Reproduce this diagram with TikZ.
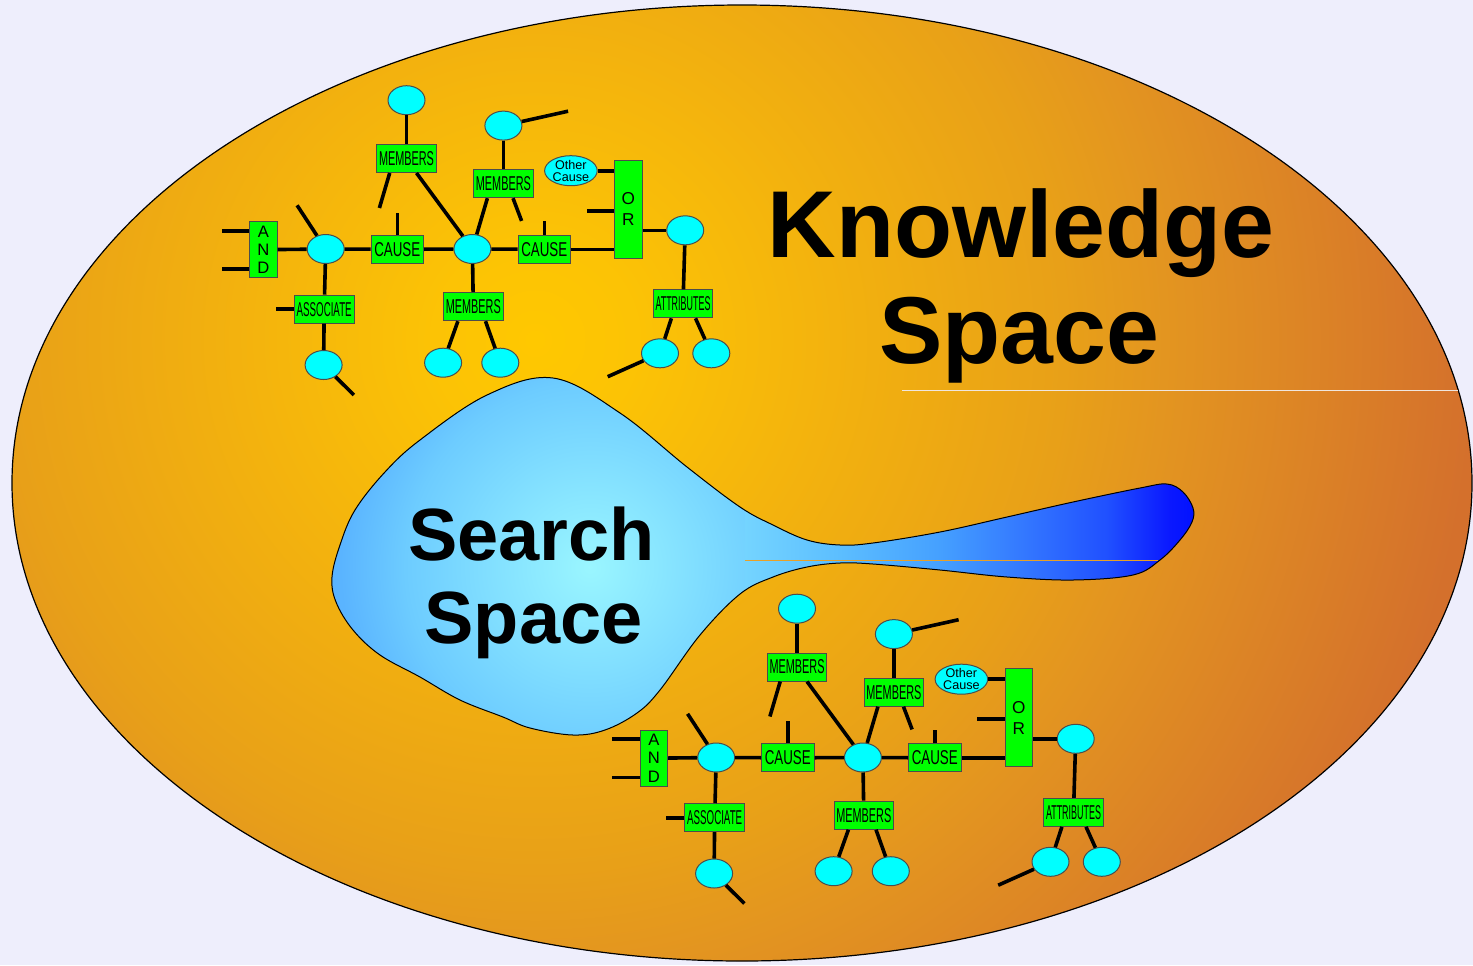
\documentclass[tikz,border=0pt]{standalone}
\usepackage{fontspec}
\setmainfont{Liberation Sans}
\usepackage{graphicx}
\usetikzlibrary{positioning,calc,shapes.geometric}

\definecolor{pagebg}{RGB}{238,238,252}
\definecolor{ks0}{RGB}{255,200,0}
\definecolor{ks1}{RGB}{252,195,5}
\definecolor{ks2}{RGB}{243,178,14}
\definecolor{ks3}{RGB}{232,160,24}
\definecolor{ks4}{RGB}{227,149,32}
\definecolor{ks5}{RGB}{212,112,44}
\definecolor{bu0}{RGB}{154,246,255}
\definecolor{bu1}{RGB}{109,204,255}
\definecolor{bu2}{RGB}{90,180,255}
\definecolor{bu3}{RGB}{85,172,255}
\definecolor{tl0}{RGB}{116,212,255}
\definecolor{tl1}{RGB}{92,190,255}
\definecolor{tl2}{RGB}{69,160,255}
\definecolor{tl3}{RGB}{48,112,255}
\definecolor{tl4}{RGB}{32,80,255}
\definecolor{tl5}{RGB}{10,24,255}
\definecolor{tl6}{RGB}{0,16,255}
\definecolor{objcyan}{RGB}{0,255,255}
\definecolor{relgreen}{RGB}{0,255,0}
\definecolor{hline}{RGB}{240,230,222}
\definecolor{tline}{RGB}{232,160,40}

\pgfdeclareradialshading{kspace}{\pgfpointorigin}{color(0bp)=(ks0); color(2.5bp)=(ks1);
  color(7.5bp)=(ks2); color(13.25bp)=(ks3); color(15.75bp)=(ks4); color(23.5bp)=(ks5); color(50bp)=(ks5)}
\pgfdeclareradialshading{bulb}{\pgfpointorigin}{color(0bp)=(bu0); color(15.4bp)=(bu1);
  color(20.8bp)=(bu2); color(25bp)=(bu3); color(50bp)=(bu3)}
\pgfdeclarehorizontalshading{tail}{100bp}{color(0bp)=(tl0); color(25bp)=(tl0); color(35.4bp)=(tl1);
  color(46.4bp)=(tl2); color(57.4bp)=(tl3); color(64.8bp)=(tl4); color(71.7bp)=(tl5); color(75bp)=(tl6); color(100bp)=(tl6)}

\newcommand{\boxtxt}[2]{\resizebox{#1}{7pt}{#2}}

\begin{document}
\begin{tikzpicture}[x=0.5pt,y=-0.5pt]
  \tikzstyle{obj}=[ellipse, draw=black!70, line width=0.5pt, fill=objcyan, minimum width=18.5pt, minimum height=14.5pt, inner sep=0pt]
  \tikzstyle{rel}=[rectangle, draw=black!70, line width=0.5pt, fill=relgreen, minimum height=14pt, inner sep=0pt]
  \tikzstyle{gate}=[rel, minimum width=13.75pt, align=center, font=\fontsize{8.3}{9.15}\selectfont]
  \tikzstyle{link}=[line width=1.8pt]
  \tikzstyle{title}=[anchor=base, inner sep=0pt, font=\bfseries\fontsize{47.5}{53}\selectfont]
  \tikzstyle{subtitle}=[anchor=base, inner sep=0pt, font=\bfseries\fontsize{37}{41.5}\selectfont]
  \useasboundingbox (0,0) rectangle (1473,965);
  \fill [pagebg] (0,0) rectangle (1473,965);
  % knowledge space
  \begin{scope}
    \clip (742,483) ellipse [x radius=730, y radius=478];
    \shade [shading=kspace] (535,340) circle [radius=1000];
  \end{scope}
  \draw [line width=0.6pt] (742,483) ellipse [x radius=730, y radius=478];
  \draw [hline, line width=0.5pt] (902,390) -- (1458,390);
  \node (know) [title] at (1021,257) {Knowledge};
  \node (kspc) [title] at (1019,363) {Space};
  % search space
  \path [save path=\blobpath] plot [smooth cycle, tension=0.6] coordinates {
    (553,378) (620,413) (687,467) (740,507) (773,525) (807,540) (840,545) (873,543)
    (940,532) (1007,517) (1073,502) (1140,488) (1167,484) (1183,492) (1193,508)
    (1192,522) (1180,540) (1160,560) (1133,575) (1073,580) (1007,577) (940,570)
    (873,564) (840,563) (807,567) (773,577) (740,594) (700,635) (660,690) (637,713)
    (605,730) (573,735) (530,728) (503,717) (460,700) (420,677) (380,655) (353,630)
    (336,602) (332,577) (340,545) (355,510) (385,472) (420,440) (487,395)};
  \begin{scope}
    \clip [use path=\blobpath];
    \shade [shading=bulb] (590,567) circle [radius=300];
    \shade [shading=tail] (745,470) rectangle (1200,600);
  \end{scope}
  \draw [line width=0.5pt, use path=\blobpath];
  \draw [tline, line width=0.5pt] (745,560) -- (1158,560);
  \node (srch) [subtitle] at (531.5,560) {Search};
  \node (sspc) [subtitle] at (533.5,643) {Space};
  % the two networks
  \foreach \dx/\dy in {0/0, 390.5/508.5} {
  \begin{scope}[shift={(\dx,\dy)}]
    \node (andg) [gate, minimum height=28pt] at (263.4,249.7) {A\\N\\D};
    \node (lft) [obj] at (325.7,249) {};
    \node (cz1) [rel, minimum width=26.2pt] at (397.3,249.3) {\boxtxt{23pt}{CAUSE}};
    \node (mid) [obj] at (472.4,249) {};
    \node (cz2) [rel, minimum width=26.2pt] at (544.3,249.3) {\boxtxt{23pt}{CAUSE}};
    \node (org) [gate, minimum height=49pt, font=\fontsize{8.6}{10.5}\selectfont] at (628.4,209.2) {O\\R};
    \node (oc) [obj, minimum width=26.3pt, minimum height=14.6pt, align=center,
      font=\fontsize{6.3}{6}\selectfont] at (570.9,170.7) {Other\\Cause};
    \node (rgt) [obj] at (685.2,230.3) {};
    \node (m1) [rel, minimum width=29.8pt] at (406.5,158.5) {\boxtxt{27.5pt}{MEMBERS}};
    \node (t1) [obj, above=14.4pt of m1] {};
    \node (m2) [rel, minimum width=29.8pt] at (503.4,183.7) {\boxtxt{27.5pt}{MEMBERS}};
    \node (t2) [obj, above=14.3pt of m2] {};
    \node (asc) [rel, minimum width=29.8pt] at (324.2,309.2) {\boxtxt{27.5pt}{ASSOCIATE}};
    \node (bl) [obj] at (323.6,365) {};
    \node (m3) [rel, minimum width=29.8pt] at (473.3,306.7) {\boxtxt{27.5pt}{MEMBERS}};
    \node (b1) [obj] at (443.1,362.7) {};
    \node (b2) [obj, right=9.6pt of b1] {};
    \node (att) [rel, minimum width=29.8pt] at (683,303.8) {\boxtxt{27.5pt}{ATTRIBUTES}};
    \node (a1) [obj] at (660,353.3) {};
    \node (a2) [obj, right=6.65pt of a1] {};
    % links
    \draw [link] (andg) -- (lft) -- (cz1) -- (mid) -- (cz2);
    \draw [link] (cz2.east) -- (cz2.east -| org.west);
    \draw [link] (oc.east) -- (oc.east -| org.west);
    \draw [link] (org.east |- rgt.west) -- (rgt.west);
    \draw [link] (rgt) -- (att);
    \draw [link] ($(att.south)+(-11.6,0)$) -- (a1);
    \draw [link] ($(att.south)+(12.5,0)$) -- (a2);
    \draw [link] (a1) -- ++(-52.3,23.4);
    \draw [link] (lft) -- ++(-28.6,-43.7);
    \draw [link] (lft) -- (asc) -- (bl) -- ++(30.3,30);
    \draw [link] (asc.west) -- ++(-18,0);
    \draw [link] ($(andg.west)+(0,-19)$) -- ++(-27.6,0);
    \draw [link] ($(andg.west)+(0,19.3)$) -- ++(-27.6,0);
    \draw [link] (cz1.north) -- ++(0,-22);
    \draw [link] (cz2.north) -- ++(0,-13.6);
    \draw [link] ($(org.west)+(0,1.5)$) -- ++(-27.6,0);
    \draw [link] (mid) -- (m3);
    \draw [link] ($(m3.south)+(-15.4,0)$) -- (b1);
    \draw [link] ($(m3.south)+(12.2,0)$) -- (b2);
    \draw [link] (t1) -- (m1);
    \draw [link] ($(m1.south)+(-16.8,0)$) -- ++(-10.3,35);
    \draw [link] ($(m1.south)+(10,0)$) -- (mid);
    \draw [link] (t2) -- (m2);
    \draw [link] (t2) -- ++(64.7,-14.4);
    \draw [link] ($(m2.south)+(-16,0)$) -- (mid);
    \draw [link] ($(m2.south)+(9.6,0)$) -- ++(8.6,22.7);
  \end{scope}
  }
\end{tikzpicture}
\end{document}
